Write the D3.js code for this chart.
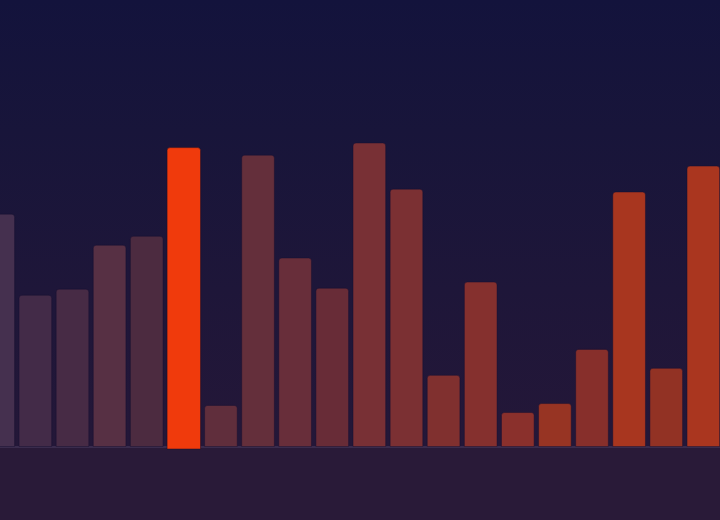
<!DOCTYPE html>
<html><head><meta charset="utf-8">
<script src="https://cdn.jsdelivr.net/npm/d3@7"></script>
<style>html,body{margin:0;padding:0;background:#13133c;overflow:hidden}</style>
</head><body><svg id="c" width="720" height="520"></svg>
<script>
const categories = ["A","B","C","D","E","F","G","H","I","J","K","L","M","N","O","P","Q","R","S","T"];
const values = [72.5,47.2,49.1,62.8,65.6,93.1,12.8,90.9,58.8,49.4,94.7,80.3,22.2,51.3,10.6,13.4,30.3,79.4,24.4,87.5];
const highlight = "F";
const palette = ["#45304f","#432b48","#472b45","#573044","#4c2b40","#f03a0c","#602e3c","#642f3b","#682e3a","#682c37",
                 "#783035","#7b3033","#80302f","#85302e","#8a302c","#973423","#872f2b","#a8361f","#923224","#aa361f"];

const W = 720, H = 520, base = 446.5;
const svg = d3.select("#c");
const defs = svg.append("defs");
const bg = defs.append("linearGradient").attr("id","bg").attr("x1",0).attr("y1",0).attr("x2",0).attr("y2",1);
bg.append("stop").attr("offset","0%").attr("stop-color","#13133c");
bg.append("stop").attr("offset","25%").attr("stop-color","#18153a");
bg.append("stop").attr("offset","86%").attr("stop-color","#241738");
bg.append("stop").attr("offset","100%").attr("stop-color","#2a1a38");
svg.append("rect").attr("width",W).attr("height",H).attr("fill","url(#bg)");
svg.append("rect").attr("x",0).attr("y",base).attr("width",W).attr("height",H-base).attr("fill","#291a38");

const x = d3.scaleBand().domain(categories).range([-20.3, 721.9]).paddingInner(0.12).paddingOuter(0.06);
const y = d3.scaleLinear().domain([0,100]).range([base, 126]);

function barPath(x0, y0, w, y1, r){
  r = Math.min(r, w/2, (y1-y0));
  return `M${x0},${y1}V${y0+r}Q${x0},${y0} ${x0+r},${y0}H${x0+w-r}Q${x0+w},${y0} ${x0+w},${y0+r}V${y1}Z`;
}

svg.append("line").attr("x1",0).attr("x2",W).attr("y1",base+0.5).attr("y2",base+0.5)
  .attr("stroke","#4d3f62").attr("stroke-width",1);

svg.append("g").selectAll("path").data(categories.filter(c=>c!==highlight)).join("path")
  .attr("d", c => barPath(x(c), y(values[categories.indexOf(c)]), x.bandwidth(), base, 3))
  .attr("fill", c => palette[categories.indexOf(c)])
  .attr("stroke","rgba(22,16,48,0.45)").attr("stroke-width",1);

const hi = categories.indexOf(highlight);
svg.append("path")
  .attr("d", barPath(x(highlight)-0.4, y(values[hi])-0.5, x.bandwidth()+0.8, base+2.5, 3))
  .attr("fill", palette[hi])
  .attr("stroke","rgba(30,15,40,0.5)").attr("stroke-width",1);
</script></body></html>
